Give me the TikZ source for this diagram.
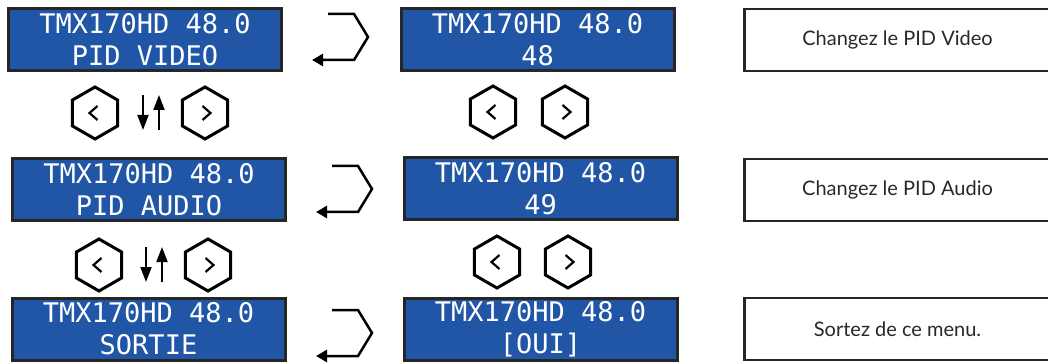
\documentclass[tikz,border=0pt]{standalone}
\usepackage{fontspec}
\setmainfont{Lato}
\newfontfamily\lcdfont{DejaVu Sans Mono}
\usetikzlibrary{shapes.geometric,arrows.meta}
\definecolor{lcdblue}{RGB}{33,86,166}
\definecolor{lcdedge}{RGB}{38,38,38}
\definecolor{txtgray}{RGB}{40,40,40}
\tikzset{
  lcd/.style={draw=lcdedge,line width=3pt,fill=lcdblue,text=white,
    minimum width=273pt,minimum height=62pt,inner sep=0pt,align=center,
    font=\fontsize{27}{32}\selectfont\lcdfont},
  note/.style={draw=lcdedge,line width=2.5pt,text=txtgray,minimum width=306pt,
    minimum height=62pt,inner sep=0pt,font=\fontsize{20}{22}\selectfont},
  hexbtn/.style={regular polygon,regular polygon sides=6,shape border rotate=30,
    draw=black,line width=3pt,minimum size=52pt,inner sep=0pt},
  btnleft/.style={hexbtn,path picture={\draw[line width=2.2pt,line join=miter]
    (path picture bounding box.center) ++(2.5pt,7pt) -- ++(-8pt,-7pt) -- ++(8pt,-7pt);}},
  btnright/.style={hexbtn,path picture={\draw[line width=2.2pt,line join=miter]
    (path picture bounding box.center) ++(-2.5pt,7pt) -- ++(8pt,-7pt) -- ++(-8pt,-7pt);}},
  ret/.style={line width=2.5pt,-{Triangle[length=11pt,width=12pt]}},
  updown/.style={line width=2pt,-{Triangle[length=15pt,width=11pt]}}
}
\begin{document}
\begin{tikzpicture}[x=1pt,y=-1pt]
  \useasboundingbox (0,0) rectangle (1048,363);
  % displays
  \node[lcd] (vid) at (145,39.5) {TMX170HD 48.0\\PID VIDEO};
  \node[lcd] (vidset) at (537.5,39.5) {TMX170HD 48.0\\48};
  \node[lcd] (aud) at (149,189.5) {TMX170HD 48.0\\PID AUDIO};
  \node[lcd] (audset) at (540.5,189) {TMX170HD 48.0\\49};
  \node[lcd] (quit) at (148.5,329) {TMX170HD 48.0\\SORTIE};
  \node[lcd] (quitset) at (540.5,329) {TMX170HD 48.0\\{[OUI]}};
  % notes
  \node[note] (nvid) at (897.5,40) {Changez le PID Video};
  \node[note] (naud) at (897.5,190) {Changez le PID Audio};
  \node[note] (nquit) at (897.5,329) {Sortez de ce menu.};
  % buttons
  \node[btnleft] (l1) at (95,113) {};
  \node[btnright] (r1) at (205,113) {};
  \node[btnleft] (l2) at (493,112) {};
  \node[btnright] (r2) at (565,112) {};
  \node[btnleft] (l3) at (99,265) {};
  \node[btnright] (r3) at (208,265) {};
  \node[btnleft] (l4) at (497,262) {};
  \node[btnright] (r4) at (568,262) {};
  % up / down
  \coordinate (d1a) at (143,95); \coordinate (d1b) at (143,130);
  \coordinate (u1a) at (159,130); \coordinate (u1b) at (159,95);
  \draw[updown] (d1a) -- (d1b);
  \draw[updown] (u1a) -- (u1b);
  \coordinate (d2a) at (146,247); \coordinate (d2b) at (146,282);
  \coordinate (u2a) at (162,282); \coordinate (u2b) at (162,247);
  \draw[updown] (d2a) -- (d2b);
  \draw[updown] (u2a) -- (u2b);
  % enter
  \coordinate (e1) at (328,14);
  \coordinate (e2) at (332,166);
  \coordinate (e3) at (332,310);
  \foreach \e in {e1,e2,e3}
    \draw[ret] (\e) -- ++(26,0) -- ++(14,23) -- ++(-14,23) -- ++(-42,0);
\end{tikzpicture}
\end{document}
